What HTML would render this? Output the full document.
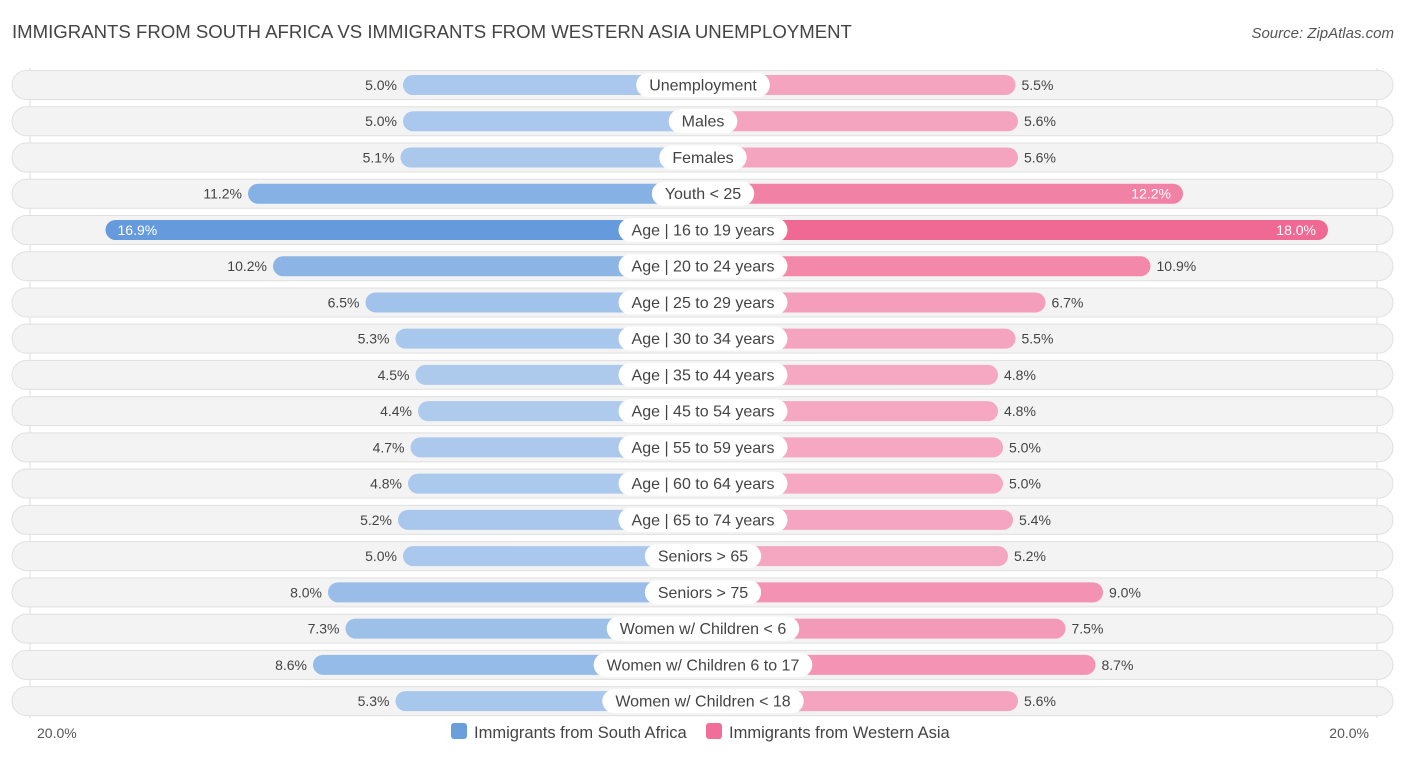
<!DOCTYPE html>
<html><head><meta charset="utf-8"><style>
body{margin:0;width:1406px;height:757px;background:#fff;font-family:"Liberation Sans",sans-serif;overflow:hidden}
svg text{font-family:"Liberation Sans",sans-serif}
</style></head><body>
<svg id="c" width="1406" height="757">
<text x="12" y="38" font-size="18.6" fill="#444">IMMIGRANTS FROM SOUTH AFRICA VS IMMIGRANTS FROM WESTERN ASIA UNEMPLOYMENT</text>
<text x="1394" y="38" font-size="15" fill="#555" font-style="italic" text-anchor="end">Source: ZipAtlas.com</text>
<line x1="30" y1="68" x2="30" y2="718" stroke="#ddd"/>
<line x1="1377" y1="68" x2="1377" y2="718" stroke="#ddd"/>
<g id="rows"></g>
<text x="37" y="738" font-size="14" fill="#555">20.0%</text>
<text x="1369" y="738" font-size="14" fill="#555" text-anchor="end">20.0%</text>
<g>
<rect x="451" y="723" width="16" height="16" rx="3" fill="#6a9fdc"/>
<text x="474" y="738" font-size="16.5" fill="#444">Immigrants from South Africa</text>
<rect x="706" y="723" width="16" height="16" rx="3" fill="#f06e98"/>
<text x="729" y="738" font-size="16.5" fill="#444">Immigrants from Western Asia</text>
</g>
</svg>
<script>
const categories=["Unemployment","Males","Females","Youth < 25","Age | 16 to 19 years","Age | 20 to 24 years","Age | 25 to 29 years","Age | 30 to 34 years","Age | 35 to 44 years","Age | 45 to 54 years","Age | 55 to 59 years","Age | 60 to 64 years","Age | 65 to 74 years","Seniors > 65","Seniors > 75","Women w/ Children < 6","Women w/ Children 6 to 17","Women w/ Children < 18"];
const southAfrica=[5.0,5.0,5.1,11.2,16.9,10.2,6.5,5.3,4.5,4.4,4.7,4.8,5.2,5.0,8.0,7.3,8.6,5.3];
const westernAsia=[5.5,5.6,5.6,12.2,18.0,10.9,6.7,5.5,4.8,4.8,5.0,5.0,5.4,5.2,9.0,7.5,8.7,5.6];
const NS="http://www.w3.org/2000/svg",g=document.getElementById('rows');
const cx=703,off=175,k=25;
function xl(v){return cx-off-v*k}function xr(v){return cx+off+v*k}
function rowY(i){return 85+i*36.24}
function mix(a,b,t){return 'rgb('+a.map((c,j)=>Math.round(c+(b[j]-c)*t)).join(',')+')'}
function col(v,light,dark){let t=Math.max(0,Math.min(1,(v-4)/13));return mix(light,dark,t)}
function el(tag,at,txt){const e=document.createElementNS(NS,tag);for(const a in at)e.setAttribute(a,at[a]);if(txt!=null)e.textContent=txt;return e}
categories.forEach((c,i)=>{
 const y=rowY(i);
 const bg=el('rect',{x:12,y:y-14.5,width:1381,height:29,rx:14.5,fill:'#f3f3f3',stroke:'#e0e0e0'});
 
 
 g.appendChild(bg);
 const a=southAfrica[i],b=westernAsia[i];
 const L=el('rect',{x:xl(a),y:y-10,width:cx-xl(a),height:20,rx:10,fill:col(a,[176,204,238],[100,155,220])});
 
 
 g.appendChild(L);
 const R=el('rect',{x:cx,y:y-10,width:xr(b)-cx,height:20,rx:10,fill:col(b,[246,172,198],[240,104,148])});
 
 
 g.appendChild(R);
 const inA=a>=12,inB=b>=12;
 const ta=el('text',{x:inA?xl(a)+12:xl(a)-6,y:y+5,'font-size':14,fill:inA?'#fff':'#444','text-anchor':inA?'start':'end'},a.toFixed(1)+'%');
 
 
 g.appendChild(ta);
 const tb=el('text',{x:inB?xr(b)-12:xr(b)+6,y:y+5,'font-size':14,fill:inB?'#fff':'#444','text-anchor':inB?'end':'start'},b.toFixed(1)+'%');
 
 
 g.appendChild(tb);
 const t=el('text',{x:cx,y:y+5.5,'font-size':16,fill:'#444','text-anchor':'middle'},c);
 g.appendChild(t);
 const w=t.getComputedTextLength()+26;
 const p=el('rect',{x:cx-w/2,y:y-12,width:w,height:24,rx:12,fill:'#fff'});
 
 
 g.insertBefore(p,t);
 
 
});
</script>
</body></html>
